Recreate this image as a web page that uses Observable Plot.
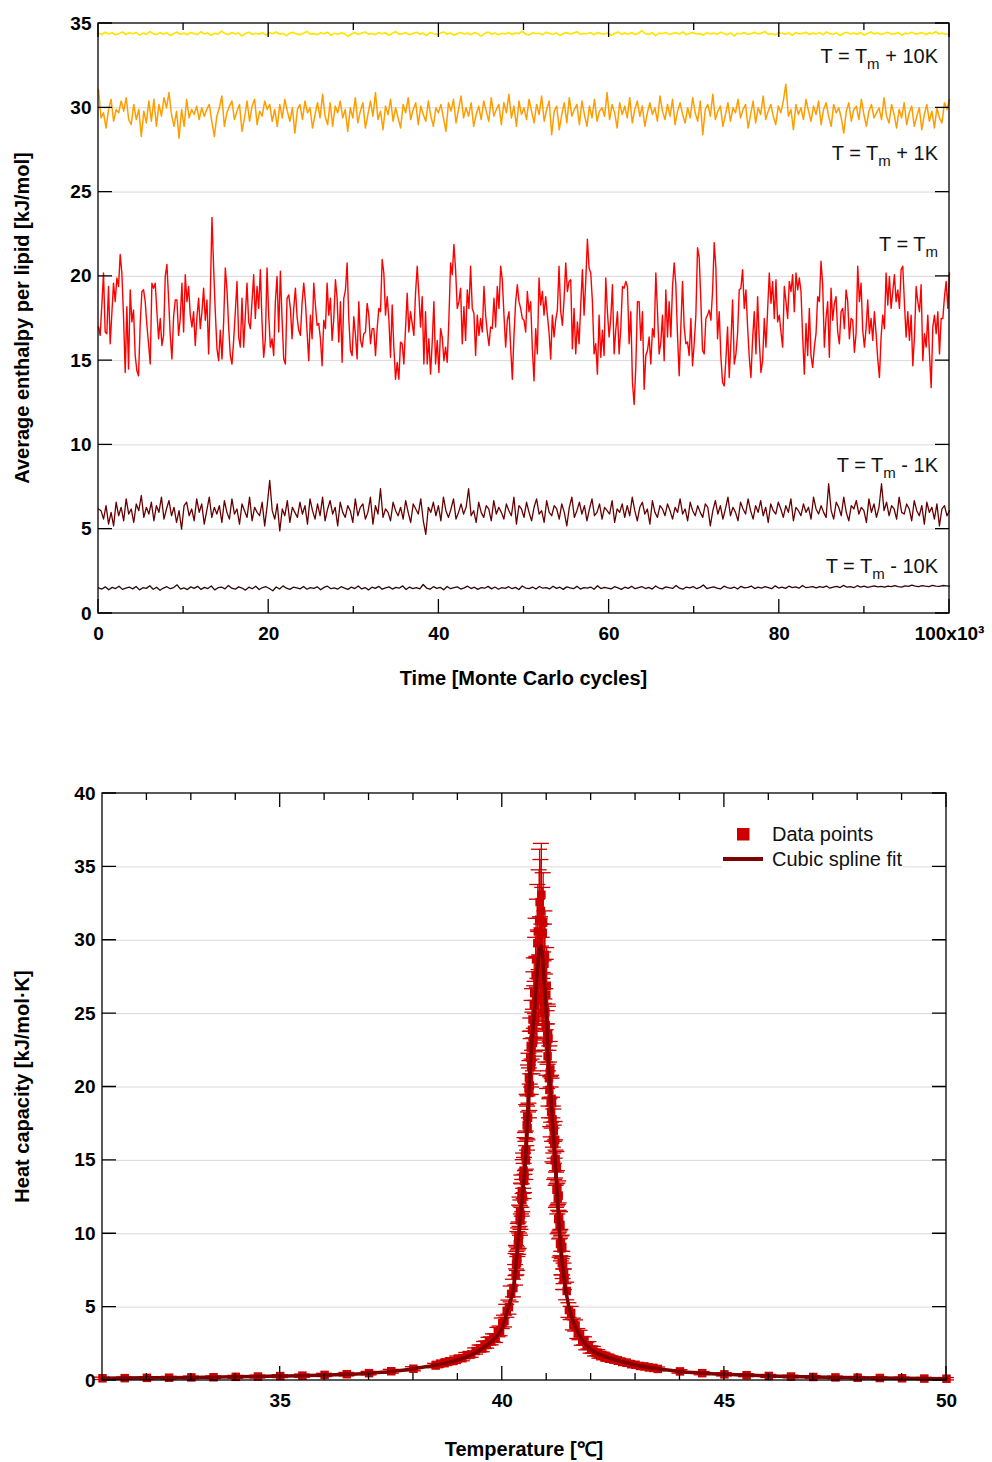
<!DOCTYPE html>
<html><head><meta charset="utf-8">
<script src="https://cdn.jsdelivr.net/npm/d3@7"></script>
<script src="https://cdn.jsdelivr.net/npm/@observablehq/plot@0.6"></script>
<style>body{margin:0;background:#fff} #chart svg{display:block}</style>
</head><body><div id="chart"></div>
<script>
// ---------- Top panel data: average enthalpy per lipid [kJ/mol] vs time ----------
const hPlus10 = [34.42,34.35,34.48,34.38,34.45,34.33,34.41,34.50,34.36,34.44,34.39,34.47,34.31,34.43,34.37,34.52,34.40,34.34,34.46,34.38,34.44,34.29,34.41,34.49,34.36,34.43,34.33,34.47,34.40,34.35,34.51,34.38,34.44,34.30,34.42,34.37,34.55,34.41,34.34,34.46,34.39,34.43,34.26,34.40,34.48,34.35,34.42,34.37,34.45,34.32,34.44,34.39,34.50,34.36,34.41,34.28,34.43,34.47,34.38,34.34,34.42,34.53,34.37,34.40,34.33,34.45,34.39,34.48,34.31,34.42,34.36,34.44,34.40,34.24,34.38,34.46,34.35,34.43,34.50,34.37,34.41,34.34,34.47,34.39,34.44,34.30,34.42,34.52,34.36,34.40,34.45,34.33,34.41,34.48,34.37,34.43,34.28,34.46,34.39,34.35,34.42,34.50,34.36,34.44,34.31,34.40,34.47,34.38,34.43,34.34,34.46,34.39,34.25,34.41,34.49,34.36,34.44,34.33,34.42,34.38,34.47,34.35,34.43,34.40,34.54,34.37,34.32,34.45,34.39,34.42,34.34,34.48,34.41,34.36,34.44,34.29,34.40,34.46,34.38,34.43,34.51,34.35,34.42,34.39,34.45,34.33,34.47,34.40,34.36,34.44,34.30,34.41,34.49,34.37,34.43,34.38,34.46,34.34,34.42,34.58,34.40,34.36,34.45,34.28,34.43,34.39,34.47,34.35,34.41,34.44,34.37,34.50,34.33,34.42,34.46,34.38,34.40,34.31,34.45,34.39,34.43,34.36,34.48,34.41,34.34,34.44,34.27,34.42,34.39,34.46,34.35,34.41,34.47,34.38,34.43,34.52,34.36,34.40,34.33,34.45,34.42,34.37,34.44,34.30,34.46,34.39,34.41,34.48,34.35,34.43,34.38,34.45,34.34,34.50,34.40,34.36,34.44,34.29,34.42,34.47,34.39,34.43,34.37,34.46,34.32,34.41,34.49,34.38,34.44,34.35,34.42,34.47,34.36,34.40,34.45,34.31,34.43,34.39,34.48,34.37,34.41,34.46,34.34,34.44,34.39,34.51,34.38,34.42,34.36,34.40];
const hPlus1 = [31.1,29.4,29.7,28.8,29.9,30.5,29.2,29.9,29.7,30.4,29.8,30.6,29.3,29.0,30.2,29.3,29.9,28.3,29.8,29.1,30.4,29.2,30.5,28.9,30.2,29.5,30.6,30.0,30.9,29.6,28.9,29.8,28.2,29.9,28.9,30.5,29.4,29.9,29.6,30.1,29.3,30.0,29.5,29.9,30.2,29.2,28.3,29.5,30.0,30.7,28.9,29.7,30.1,30.4,29.3,29.8,30.2,28.6,29.4,30.4,29.2,30.1,30.5,29.0,29.8,29.5,30.4,29.9,30.2,29.2,29.9,28.9,30.2,29.4,30.5,29.8,29.2,30.0,28.5,29.9,30.2,29.3,30.4,29.7,30.0,28.8,29.6,30.3,29.4,30.8,29.5,29.0,30.3,28.9,30.1,29.7,30.4,29.4,29.9,28.6,30.0,29.4,30.6,29.1,29.8,30.3,28.8,29.6,30.4,29.5,30.9,29.3,29.8,28.7,30.1,29.6,30.5,29.2,30.0,29.4,28.8,30.2,29.7,30.6,29.3,29.9,30.3,29.0,30.1,29.6,29.2,30.4,29.5,28.9,30.0,29.7,30.2,29.4,28.6,30.3,29.8,30.5,29.1,29.9,30.7,29.4,30.0,29.5,30.3,28.9,29.6,30.1,29.3,30.4,29.8,29.2,30.6,29.5,29.9,30.2,29.0,30.3,29.7,30.8,29.4,30.1,28.9,30.4,29.6,30.0,29.3,30.5,29.8,29.1,30.2,29.6,30.7,29.2,29.9,30.4,28.4,29.8,30.1,28.7,29.6,30.3,29.1,30.6,29.5,29.9,30.2,29.0,30.4,29.6,28.9,30.1,29.4,30.5,29.2,29.8,30.0,29.5,30.9,29.3,30.2,29.7,28.8,30.3,29.6,30.1,29.4,30.6,29.1,29.9,30.4,29.5,30.1,28.9,29.7,30.3,29.6,30.0,29.2,30.7,29.8,29.3,30.2,29.5,30.5,29.0,29.8,30.3,29.6,29.1,30.0,29.4,30.6,29.7,29.2,30.4,28.4,29.9,30.2,29.5,30.8,29.3,29.8,30.1,28.9,29.6,30.3,29.2,30.0,29.7,30.5,29.4,29.9,30.2,28.8,29.6,30.4,29.1,30.0,29.6,30.7,29.3,29.8,30.2,29.5,29.0,30.1,29.7,30.4,31.4,29.5,29.9,28.7,30.2,29.6,30.0,29.3,30.5,29.8,29.2,30.1,29.6,30.4,29.0,29.9,30.3,29.5,28.9,30.2,29.7,30.0,29.4,28.5,29.8,30.3,29.2,29.9,30.1,29.3,30.5,29.6,28.9,29.8,30.2,29.4,29.7,30.0,29.3,30.6,29.5,29.1,30.2,29.6,28.8,29.9,29.4,30.3,29.0,29.7,30.1,28.9,29.5,30.0,28.7,29.6,30.2,29.2,29.8,28.8,30.0,29.4,29.1,30.3,29.9,30.5];
const hTm = [17.0,16.5,18.3,20.2,16.7,16.6,19.4,16.0,17.8,19.6,18.5,19.9,19.4,21.3,20.2,17.6,14.3,18.2,14.5,19.2,17.3,18.0,15.3,14.4,14.1,17.2,19.1,19.2,18.5,17.1,16.0,14.8,19.6,19.3,19.6,17.9,16.3,17.5,15.9,16.5,20.0,20.7,18.7,16.5,15.1,17.6,18.6,18.6,16.5,17.5,19.6,16.7,20.1,18.5,19.4,17.7,17.0,17.9,15.9,17.6,18.7,16.9,17.9,19.3,17.4,18.6,15.4,18.9,23.5,20.5,17.9,15.7,15.0,16.8,15.1,17.3,20.5,19.2,17.0,15.3,14.8,16.2,17.9,19.7,16.4,15.8,18.7,15.8,17.7,19.6,17.3,16.9,18.5,20.1,17.5,19.4,18.1,20.4,17.3,15.2,16.3,20.5,17.7,15.8,16.3,15.3,18.5,20.0,16.7,20.3,17.5,15.1,14.8,18.7,18.9,18.1,16.3,18.1,19.3,17.6,16.8,16.5,18.4,19.6,18.5,16.7,15.0,17.7,16.3,19.6,18.3,17.1,17.2,16.3,14.7,17.4,16.9,19.6,17.7,18.7,16.2,17.5,19.8,18.7,16.1,18.5,14.9,18.7,19.2,20.8,17.5,15.6,15.3,17.6,16.5,15.1,18.5,16.2,15.8,16.6,16.7,18.4,17.7,16.0,16.9,16.9,15.3,16.9,18.1,17.9,21.0,20.2,
17.7,18.8,17.5,15.2,18.3,15.8,13.9,14.9,13.9,16.1,16.0,14.8,16.9,19.0,16.7,17.9,17.2,16.5,19.0,20.6,18.9,17.0,18.8,14.8,17.9,14.8,16.3,14.2,16.1,18.5,14.8,16.2,14.3,16.9,16.4,15.0,15.8,14.9,17.5,20.8,20.1,21.9,20.4,18.1,18.5,19.3,16.0,18.2,16.2,19.2,18.1,20.6,18.1,17.8,15.3,17.7,16.5,17.5,16.7,19.4,17.7,16.7,15.9,17.0,16.9,18.7,17.0,19.4,18.1,20.6,19.8,17.7,15.8,17.4,17.9,15.8,13.9,16.5,18.5,19.5,18.5,18.1,17.5,17.4,16.7,19.1,17.9,18.5,15.7,13.8,16.9,15.4,19.9,18.3,19.1,17.7,18.8,17.7,16.7,15.1,17.7,16.4,17.4,18.0,20.6,17.9,17.1,18.6,20.8,19.1,19.7,19.8,15.7,18.1,15.4,17.3,16.0,18.3,20.4,17.7,19.7,22.2,20.5,20.2,18.5,15.4,16.0,14.2,17.7,15.2,16.8,15.3,19.9,17.9,16.4,17.5,19.5,15.4,16.8,17.9,15.4,16.9,19.4,19.3,19.7,19.4,16.0,17.9,13.7,12.4,14.6,18.5,18.5,16.2,17.9,13.3,15.3,15.6,16.4,14.8,16.9,16.4,20.2,17.9,15.4,16.1,17.7,15.0,19.2,16.4,18.5,16.4,19.4,20.8,19.5,16.5,
14.1,17.0,19.7,17.0,16.0,16.1,15.3,17.5,14.7,16.0,17.7,21.7,21.1,18.5,15.6,15.4,17.5,17.7,18.0,17.4,19.1,22.0,20.5,16.3,17.9,15.2,13.7,13.5,15.1,17.0,14.0,16.1,18.6,14.8,15.4,16.6,19.2,19.3,20.4,18.1,19.2,17.0,15.2,14.0,16.3,17.9,15.4,18.8,16.2,14.3,15.0,17.5,15.8,18.0,20.2,18.4,19.7,17.5,19.8,17.3,17.7,16.7,15.8,19.4,18.5,17.5,19.7,19.1,20.1,17.9,20.2,19.2,19.9,19.1,16.4,14.2,17.2,15.3,18.1,15.3,14.6,15.8,16.6,18.8,18.5,20.9,19.5,15.8,17.5,18.5,15.2,19.3,17.4,18.4,18.8,16.7,16.0,17.9,18.1,16.9,19.2,18.5,16.3,17.5,17.4,15.5,16.6,20.6,18.5,19.6,16.8,15.8,16.9,18.6,16.6,17.5,16.2,17.9,16.6,15.1,14.0,16.4,17.7,16.9,20.2,18.3,20.0,18.1,19.1,20.1,18.5,19.2,18.1,20.4,20.6,18.4,16.4,17.9,16.2,17.7,14.7,16.4,19.4,18.5,17.9,19.5,15.0,16.6,15.8,17.7,15.4,13.4,17.0,17.7,16.6,17.9,15.4,17.5,17.5,18.8,19.7,18.1,20.2];
const hMinus1 = [6.2,6.1,5.6,6.4,5.3,6.0,5.2,6.6,5.8,6.3,5.5,6.8,5.9,6.2,5.4,6.5,6.1,7.0,5.7,6.3,5.9,6.6,5.5,6.4,6.0,6.9,5.6,6.2,6.7,5.8,6.3,5.4,6.1,5.0,6.4,6.6,5.8,6.2,5.5,6.8,6.0,6.5,5.3,6.1,6.9,5.7,6.3,5.9,6.4,5.4,6.7,6.0,5.6,6.8,5.9,6.2,5.3,6.5,6.1,5.7,6.9,5.5,6.3,6.0,5.8,6.6,5.2,6.4,7.9,6.1,5.6,6.5,4.9,6.2,5.8,6.7,5.4,6.3,6.0,5.7,6.6,5.9,6.4,5.3,6.8,6.1,5.6,6.5,5.8,6.9,5.5,6.2,6.7,5.9,6.3,5.2,6.6,6.0,5.7,6.4,6.1,5.4,6.8,5.8,6.3,6.5,5.6,6.0,6.9,5.3,6.4,5.9,7.4,5.7,6.2,6.0,5.5,6.6,6.1,5.8,6.3,5.6,6.7,6.0,5.4,6.5,6.2,5.9,6.8,5.5,4.7,6.3,6.0,6.6,5.8,6.4,5.5,6.9,6.1,5.7,6.2,6.8,5.6,6.0,6.5,5.9,6.3,7.4,5.8,6.1,5.4,6.6,6.0,5.7,6.4,6.2,5.5,6.7,5.9,6.3,6.0,5.6,6.5,6.1,5.8,6.9,5.3,6.4,6.2,5.7,6.6,6.0,5.5,6.3,6.8,5.9,6.1,5.4,6.7,6.0,5.8,6.4,6.2,5.6,6.5,6.0,5.2,6.3,6.9,5.7,6.1,6.6,5.9,6.4,5.5,6.2,6.8,5.8,6.0,6.5,5.6,6.3,6.1,5.9,6.7,5.4,6.2,6.0,6.5,5.7,6.4,5.8,6.9,6.1,5.5,6.3,6.6,5.9,6.2,5.3,6.7,6.0,5.7,6.4,6.2,5.8,6.5,6.1,5.6,6.3,6.0,6.8,5.9,6.2,5.5,6.6,6.1,5.8,6.4,6.0,5.7,6.5,6.3,5.2,6.1,6.7,5.9,6.4,5.6,6.2,6.9,5.8,6.3,6.0,5.5,6.6,6.2,5.9,6.8,6.1,5.6,6.4,6.0,6.7,5.8,6.3,5.4,6.5,6.1,5.9,6.6,6.2,5.7,6.4,6.0,6.8,5.5,6.3,6.1,5.8,6.5,6.0,6.3,5.6,6.9,6.2,5.9,6.4,6.0,5.7,7.7,6.1,5.6,6.6,6.3,5.8,6.9,6.0,5.5,6.4,6.2,6.7,5.9,6.3,6.1,5.4,6.8,6.0,6.5,5.7,6.3,7.7,6.1,6.6,5.8,6.4,6.2,5.6,6.9,6.0,5.9,6.5,6.2,5.5,6.7,6.1,5.8,6.4,5.3,6.6,6.0,6.3,5.6,6.5,5.2,6.2,6.4,5.8,6.1];
const hMinus10 = [1.52,1.45,1.58,1.41,1.55,1.48,1.62,1.43,1.50,1.57,1.46,1.60,1.40,1.53,1.49,1.65,1.44,1.56,1.38,1.51,1.59,1.47,1.54,1.70,1.45,1.52,1.42,1.58,1.49,1.61,1.43,1.55,1.48,1.63,1.40,1.53,1.57,1.46,1.66,1.50,1.44,1.58,1.51,1.39,1.56,1.47,1.62,1.42,1.54,1.59,1.48,1.35,1.57,1.45,1.64,1.50,1.43,1.56,1.52,1.46,1.60,1.44,1.53,1.49,1.58,1.41,1.55,1.62,1.47,1.52,1.45,1.59,1.50,1.43,1.57,1.48,1.63,1.46,1.54,1.40,1.56,1.49,1.61,1.44,1.52,1.58,1.45,1.55,1.50,1.64,1.42,1.57,1.48,1.53,1.46,1.72,1.51,1.44,1.59,1.49,1.55,1.41,1.60,1.47,1.53,1.58,1.45,1.52,1.62,1.48,1.56,1.43,1.54,1.50,1.61,1.46,1.57,1.44,1.53,1.49,1.59,1.47,1.55,1.42,1.63,1.51,1.48,1.57,1.45,1.60,1.50,1.54,1.46,1.62,1.49,1.56,1.43,1.58,1.52,1.47,1.61,1.45,1.53,1.50,1.57,1.44,1.65,1.48,1.55,1.51,1.46,1.59,1.52,1.43,1.56,1.49,1.62,1.47,1.54,1.60,1.48,1.55,1.45,1.63,1.51,1.46,1.58,1.53,1.49,1.66,1.50,1.44,1.57,1.52,1.60,1.47,1.55,1.69,1.48,1.53,1.58,1.51,1.46,1.62,1.54,1.49,1.57,1.45,1.61,1.52,1.55,1.63,1.48,1.56,1.50,1.59,1.53,1.47,1.64,1.51,1.57,1.49,1.62,1.54,1.58,1.50,1.66,1.53,1.56,1.60,1.52,1.59,1.55,1.63,1.50,1.57,1.61,1.54,1.67,1.56,1.60,1.53,1.65,1.57,1.62,1.55,1.59,1.64,1.58,1.61,1.56,1.63,1.59,1.66,1.60,1.57,1.64,1.61,1.68,1.62,1.59,1.65,1.62,1.60,1.67,1.63,1.61,1.66,1.64,1.62];

const seriesValues = [hPlus10, hPlus1, hTm, hMinus1, hMinus10];
const seriesColors = ["#ffe500", "#ff9d00", "#ff0000", "#660000", "#2e0808"];
const seriesWidths = [1.7, 1.5, 1.4, 1.3, 1.3];
const timeMax = 100000;
const labelParts = [["T = T", "m", " + 10K"], ["T = T", "m", " + 1K"], ["T = T", "m", ""], ["T = T", "m", " - 1K"], ["T = T", "m", " - 10K"]];
const labelY = [32.62, 26.87, 21.47, 8.36, 2.37];

const topXTicks = [0, 20000, 40000, 60000, 80000, 100000];
const topXTickLabels = ["0", "20", "40", "60", "80", "100x10\u00B3"];
const topXMinor = [10000, 30000, 50000, 70000, 90000];
const topYTicks = [0, 5, 10, 15, 20, 25, 30, 35];
const topGrid = [5, 10, 15, 20, 25, 30];

// ---------- Bottom panel data: heat capacity vs temperature ----------
const cpTemp = [31,31.5,32,32.5,33,33.5,34,34.5,35,35.5,36,36.5,37,37.5,38,
38.5,38.6,38.7,38.8,38.9,39.0,39.1,39.2,39.3,39.4,
39.5,39.55,39.6,39.65,39.7,39.75,39.8,39.85,39.9,39.95,40.0,40.05,40.1,40.15,40.2,40.25,
40.30,40.32,40.34,40.36,40.38,40.40,40.42,40.44,40.46,40.48,40.50,40.52,40.54,40.56,40.58,40.60,40.62,40.64,40.66,40.68,40.70,40.72,40.74,40.76,40.78,40.80,40.82,40.84,40.86,40.88,40.90,40.92,40.94,40.96,40.98,41.00,41.02,41.04,41.06,41.08,41.10,41.12,41.14,41.16,41.18,41.20,41.22,41.24,41.26,41.28,41.30,41.32,41.34,41.36,41.38,41.40,
41.45,41.5,41.55,41.6,41.65,41.7,41.75,41.8,41.85,41.9,41.95,42.0,42.05,42.1,42.15,42.2,42.25,42.3,42.35,42.4,42.45,42.5,
42.6,42.7,42.8,42.9,43.0,43.1,43.2,43.3,43.4,43.5,
44,44.5,45,45.5,46,46.5,47,47.5,48,48.5,49,49.5,50];
const cpValue = [0.15,0.16,0.18,0.19,0.21,0.22,0.25,0.27,0.30,0.33,0.38,0.43,0.50,0.63,0.80,
1.02,1.15,1.18,1.31,1.33,1.49,1.52,1.72,1.78,2.01,
2.2,2.18,2.42,2.45,2.68,2.7,2.9,2.88,3.3,3.38,3.9,4.05,4.75,5.0,5.9,6.3,
7.2,8.4,8.3,9.8,9.9,11.5,11.3,12.9,12.6,14.3,14.0,15.6,15.7,18.0,17.9,20.6,20.1,22.8,21.9,24.6,23.2,26.4,24.8,28.7,26.1,30.6,27.4,32.6,28.2,33.1,27.0,31.2,25.8,29.0,24.2,26.9,22.1,23.3,19.8,21.2,18.3,18.9,16.4,17.0,15.0,15.1,13.0,13.1,11.0,11.1,9.3,9.4,8.0,8.0,6.9,6.9,
6.1,4.8,4.6,3.85,3.75,3.2,3.1,2.7,2.7,2.35,2.4,2.1,2.1,1.88,1.9,1.72,1.74,1.6,1.62,1.5,1.5,1.42,
1.38,1.26,1.22,1.11,1.07,0.99,0.96,0.89,0.86,0.79,
0.62,0.5,0.42,0.36,0.31,0.27,0.24,0.21,0.19,0.17,0.15,0.13,0.12];
const cpError = [0.08,0.08,0.08,0.09,0.09,0.09,0.10,0.10,0.10,0.11,0.11,0.12,0.12,0.13,0.14,
0.15,0.16,0.16,0.17,0.17,0.18,0.18,0.19,0.2,0.21,
0.22,0.22,0.24,0.24,0.26,0.27,0.28,0.29,0.32,0.33,0.36,0.4,0.44,0.48,0.54,0.6,
0.7,0.8,0.8,0.9,0.9,1.0,1.0,1.1,1.1,1.2,1.2,1.3,1.3,1.5,1.5,1.7,1.7,1.9,1.9,2.1,2.1,2.4,2.4,2.8,2.8,3.2,3.2,3.6,3.4,3.5,3.2,3.4,2.8,3.0,2.5,2.6,2.2,2.2,1.9,1.9,1.7,1.7,1.5,1.5,1.3,1.3,1.2,1.2,1.0,1.0,0.9,0.9,0.8,0.8,0.7,0.7,
0.6,0.5,0.45,0.4,0.38,0.34,0.32,0.3,0.28,0.26,0.25,0.24,0.22,0.21,0.2,0.2,0.19,0.19,0.18,0.18,0.17,0.17,
0.16,0.16,0.15,0.15,0.15,0.14,0.14,0.14,0.13,0.13,
0.12,0.11,0.11,0.10,0.10,0.09,0.09,0.09,0.08,0.08,0.08,0.08,0.08];
// extra measurements near the transition (odd hundredths)
const cpTempPeak = [40.31,40.33,40.35,40.37,40.39,40.41,40.43,40.45,40.47,40.49,40.51,40.53,40.55,40.57,40.59,40.61,40.63,40.65,40.67,40.69,40.71,40.73,40.75,40.77,40.79,40.81,40.83,40.85,40.87,40.89,40.91,40.93,40.95,40.97,40.99,41.01,41.03,41.05,41.07,41.09,41.11,41.13,41.15,41.17,41.19,41.21,41.23,41.25,41.27,41.29,41.31,41.33,41.35,41.37,41.39];
const cpValuePeak = [7.9,8.0,9.3,9.5,11.0,10.9,12.4,12.3,13.9,13.6,15.3,15.0,17.4,17.2,19.9,19.6,22.0,21.4,23.9,23.0,25.6,24.5,27.6,26.0,29.8,27.5,31.4,28.0,32.0,27.8,30.5,26.3,28.4,25.1,26.3,23.0,23.6,20.6,21.0,19.0,19.2,17.8,17.3,16.1,16.4,14.5,14.5,12.4,12.6,10.6,10.6,9.0,9.1,7.7,7.3];
const cpErrorPeak = [0.75,0.8,0.85,0.9,0.95,1.0,1.05,1.1,1.15,1.2,1.25,1.3,1.4,1.5,1.6,1.7,1.8,1.9,2.0,2.1,2.25,2.4,2.6,2.8,3.0,3.2,3.4,3.5,3.5,3.3,3.1,2.9,2.7,2.6,2.4,2.2,2.05,1.9,1.8,1.7,1.6,1.5,1.4,1.3,1.25,1.2,1.1,1.05,1.0,0.95,0.9,0.85,0.8,0.75,0.7];

const splineTemp = [31,32,33,34,35,36,37,37.5,38,38.5,39,39.3,39.6,39.84,40.0,40.14,40.25,40.37,40.45,40.52,40.61,40.66,40.72,40.78,40.83,40.86,40.9,40.94,40.99,41.04,41.08,41.14,41.19,41.24,41.29,41.38,41.5,41.6,41.77,42.0,42.3,42.6,43,43.5,44,45,46,47,48,49,50];
const splineValue = [0.15,0.18,0.21,0.25,0.30,0.37,0.50,0.62,0.80,1.05,1.40,1.75,2.3,2.9,3.6,5.0,6.3,10.0,12.5,15.0,20.4,22.9,25.0,27.5,29.2,29.6,29.1,27.3,25.0,21.5,20.0,17.2,15.0,12.4,10.0,7.2,5.0,4.0,2.9,2.1,1.65,1.36,1.06,0.8,0.62,0.42,0.31,0.24,0.19,0.15,0.12];

const botXMajor = [35, 40, 45, 50];
const botXMinor = [32, 33, 34, 36, 37, 38, 39, 41, 42, 43, 44, 46, 47, 48, 49];
const botYTicks = [0, 5, 10, 15, 20, 25, 30, 35, 40];
const botGrid = [5, 10, 15, 20, 25, 30, 35];
const legendLabels = ["Data points", "Cubic spline fit"];

// ---------- helpers ----------
const FONT = "'Liberation Sans', Arial, Helvetica, sans-serif";
const baseStyle = {fontFamily: FONT, fontSize: "19px", fontWeight: "bold", color: "black", background: "white", overflow: "visible"};

function frameTicks(xMajor, xMinor, yMajor) {
  return (index, scales, values, dims) => {
    const {x, y} = scales;
    const L = dims.marginLeft, R = dims.width - dims.marginRight, T = dims.marginTop, B = dims.height - dims.marginBottom;
    const g = d3.create("svg:g").attr("fill", "none").attr("stroke", "black").attr("stroke-width", 1.3);
    const p = d3.path();
    for (const v of xMajor) { const px = x(v); p.moveTo(px, B); p.lineTo(px, B - 14); p.moveTo(px, T); p.lineTo(px, T + 14); }
    for (const v of xMinor) { const px = x(v); p.moveTo(px, B); p.lineTo(px, B - 7); p.moveTo(px, T); p.lineTo(px, T + 7); }
    for (const v of yMajor) { const py = y(v); p.moveTo(L, py); p.lineTo(L + 14, py); p.moveTo(R, py); p.lineTo(R - 14, py); }
    g.append("path").attr("d", p.toString());
    g.append("rect").attr("x", L).attr("y", T).attr("width", R - L).attr("height", B - T);
    return g.node();
  };
}

function titles(xTitle, yTitle, xTitleOffset) {
  return (index, scales, values, dims) => {
    const L = dims.marginLeft, R = dims.width - dims.marginRight, T = dims.marginTop, B = dims.height - dims.marginBottom;
    const g = d3.create("svg:g").attr("fill", "black").attr("font-family", FONT).attr("font-weight", "bold").attr("font-size", 20).attr("text-anchor", "middle");
    g.append("text").attr("x", (L + R) / 2).attr("y", B + xTitleOffset).text(xTitle);
    g.append("text").attr("transform", `translate(22,${(T + B) / 2}) rotate(-90)`).attr("dominant-baseline", "central").text(yTitle);
    return g.node();
  };
}

// ---------- top plot ----------
const lineMarks = seriesValues.map((vals, s) =>
  Plot.line(vals.map((v, i) => ({t: i * timeMax / (vals.length - 1), h: v})),
    {x: "t", y: "h", stroke: seriesColors[s], strokeWidth: seriesWidths[s], strokeLinejoin: "round"}));

const seriesLabels = (index, scales, values, dims) => {
  const g = d3.create("svg:g").attr("fill", "#111").attr("font-family", FONT).attr("font-weight", "normal").attr("font-size", 20).attr("text-anchor", "end");
  labelParts.forEach((parts, i) => {
    const t = g.append("text").attr("x", scales.x(timeMax) - 11).attr("y", scales.y(labelY[i]));
    t.append("tspan").text(parts[0]);
    t.append("tspan").attr("font-size", 15).attr("dy", 6).text(parts[1]);
    if (parts[2]) t.append("tspan").attr("dy", -6).text(parts[2]);
  });
  return g.node();
};

const topPlot = Plot.plot({
  width: 992, height: 720,
  marginTop: 23, marginBottom: 107, marginLeft: 98, marginRight: 43,
  style: baseStyle,
  x: {domain: [0, timeMax]},
  y: {domain: [0, 35]},
  marks: [
    Plot.ruleY(topGrid, {stroke: "#d9d9d9", strokeWidth: 1}),
    ...lineMarks,
    Plot.axisX(topXTicks, {tickSize: 0, tickPadding: 13, tickFormat: d => topXTickLabels[topXTicks.indexOf(d)], label: null}),
    Plot.axisY(topYTicks, {tickSize: 0, tickPadding: 7, label: null}),
    frameTicks(topXTicks, topXMinor, topYTicks),
    seriesLabels,
    titles("Time [Monte Carlo cycles]", "Average enthalpy per lipid [kJ/mol]", 72)
  ]
});

// ---------- bottom plot ----------
const allT = cpTemp.concat(cpTempPeak), allV = cpValue.concat(cpValuePeak), allE = cpError.concat(cpErrorPeak);
const cpData = allT.map((T, i) => ({T, v: allV[i], lo: allV[i] - allE[i], hi: allV[i] + allE[i]}));
const splineData = splineTemp.map((T, i) => ({T, v: splineValue[i]}));

const legend = (index, scales, values, dims) => {
  const R = dims.width - dims.marginRight, T = dims.marginTop;
  const g = d3.create("svg:g");
  g.append("rect").attr("x", R - 224).attr("y", T + 24).attr("width", 181).attr("height", 56).attr("fill", "white");
  g.append("rect").attr("x", R - 209).attr("y", T + 35).attr("width", 12.5).attr("height", 12.5).attr("fill", "#cc0000");
  g.append("line").attr("x1", R - 223).attr("x2", R - 183).attr("y1", T + 66).attr("y2", T + 66).attr("stroke", "#800000").attr("stroke-width", 4);
  const txt = g.append("g").attr("fill", "#111").attr("font-family", FONT).attr("font-weight", "normal").attr("font-size", 20).attr("text-anchor", "start");
  txt.append("text").attr("x", R - 174).attr("y", T + 48).text(legendLabels[0]);
  txt.append("text").attr("x", R - 174).attr("y", T + 73).text(legendLabels[1]);
  return g.node();
};

const bottomPlot = Plot.plot({
  width: 992, height: 742,
  marginTop: 73, marginBottom: 82, marginLeft: 102, marginRight: 46,
  style: baseStyle,
  x: {domain: [31, 50]},
  y: {domain: [0, 40]},
  marks: [
    Plot.ruleY(botGrid, {stroke: "#d9d9d9", strokeWidth: 1}),
    Plot.ruleX(cpData, {x: "T", y1: "lo", y2: "hi", stroke: "#cc0000", strokeWidth: 1.3}),
    Plot.ruleY(cpData, {y: "hi", x1: "T", x2: "T", insetLeft: -8, insetRight: -8, stroke: "#cc0000", strokeWidth: 1.3}),
    Plot.ruleY(cpData, {y: "lo", x1: "T", x2: "T", insetLeft: -8, insetRight: -8, stroke: "#cc0000", strokeWidth: 1.3}),
    Plot.dot(cpData, {x: "T", y: "v", symbol: "square", r: 4.8, fill: "#cc0000", stroke: "none"}),
    Plot.line(splineData, {x: "T", y: "v", curve: "monotone-x", stroke: "#800000", strokeWidth: 3.5, strokeLinejoin: "round"}),
    Plot.axisX(botXMajor, {tickSize: 0, tickPadding: 13, label: null}),
    Plot.axisY(botYTicks, {tickSize: 0, tickPadding: 7, label: null}),
    frameTicks(botXMajor, botXMinor, botYTicks),
    legend,
    titles("Temperature [\u2103]", "Heat capacity [kJ/mol\u00B7K]", 76)
  ]
});

const chart = document.getElementById("chart");
chart.appendChild(topPlot);
chart.appendChild(bottomPlot);
</script></body></html>
